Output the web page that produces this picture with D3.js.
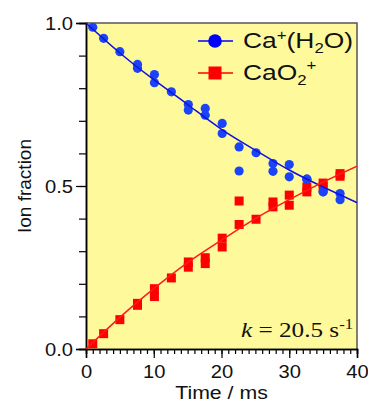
<!DOCTYPE html>
<html>
<head>
<meta charset="utf-8">
<script src="https://cdn.jsdelivr.net/npm/d3@7"></script>
<style>
  body { margin: 0; background: #fff; }
</style>
</head>
<body>
<figure id="chart" style="margin:0"></figure>
<script>
// measured times (ms)
const times = [1.0, 2.6, 5.0, 7.6, 7.6, 10.1, 10.1, 12.6, 15.1, 15.1, 17.6, 17.6, 20.1, 20.1,
  22.6, 22.6, 25.1, 27.6, 27.6, 30.0, 30.0, 32.6, 32.6, 35.0, 35.0, 37.5, 37.5];
// Ca+(H2O) fraction
const caH2O = [0.987, 0.953, 0.912, 0.873, 0.861, 0.842, 0.817, 0.789, 0.750, 0.733, 0.738, 0.717,
  0.692, 0.661, 0.620, 0.546, 0.602, 0.569, 0.545, 0.566, 0.528, 0.521, 0.521, 0.482, 0.482, 0.477, 0.458];
// CaO2+ fraction
const caO2 = [0.016, 0.047, 0.090, 0.134, 0.140, 0.185, 0.161, 0.218, 0.267, 0.251, 0.280, 0.262,
  0.340, 0.313, 0.454, 0.382, 0.398, 0.451, 0.436, 0.472, 0.441, 0.497, 0.482, 0.509, 0.499, 0.538, 0.530];

// fitted curves
const fitTimes = [0, 5, 10, 15, 20, 25, 30, 35, 40];
const fitCaH2O = [1.0, 0.908, 0.826, 0.750, 0.674, 0.610, 0.549, 0.497, 0.449];
const fitCaO2 = [0.0, 0.097, 0.185, 0.265, 0.334, 0.400, 0.458, 0.512, 0.561];

const xTicks = [0, 10, 20, 30, 40];
const yTicks = [0, 0.5, 1.0];

const W = 368, H = 405;
const margin = {left: 86, right: 11, top: 23, bottom: 56};
const width = W - margin.left - margin.right;
const height = H - margin.top - margin.bottom;
const stretch = 1.12; // the original text is a little wider than plain Arial
const sans = "'Liberation Sans', Arial, sans-serif";
const serif = "'Liberation Serif', 'Times New Roman', serif";

const svg = d3.select("#chart").append("svg")
  .attr("width", W).attr("height", H)
  .style("font-family", sans);
const g = svg.append("g")
  .attr("transform", "translate(" + margin.left + "," + margin.top + ")");

const x = d3.scaleLinear().domain([0, 40]).range([0, width]);
const y = d3.scaleLinear().domain([0, 1]).range([height, 0]);

// plot background + frame
g.append("rect").attr("width", width).attr("height", height).attr("fill", "#fefa9c");
g.append("path")
  .attr("d", "M0,0H" + width + "V" + height)
  .attr("fill", "none").attr("stroke", "#555").attr("stroke-width", 1.5);

// minor ticks
const xAxisMinor = g.append("g").attr("transform", "translate(0," + height + ")")
  .call(d3.axisBottom(x).ticks(40).tickSize(5).tickFormat(""));
const xAxis = g.append("g").attr("transform", "translate(0," + height + ")")
  .call(d3.axisBottom(x).tickValues(xTicks).tickSize(9).tickPadding(4).tickFormat(d3.format("d")));
const yAxisMinor = g.append("g")
  .call(d3.axisLeft(y).ticks(10).tickSize(7).tickFormat(""));
const yAxis = g.append("g")
  .call(d3.axisLeft(y).tickValues(yTicks).tickSize(10).tickPadding(3).tickFormat(d3.format(".1f")));

[xAxisMinor, xAxis, yAxisMinor, yAxis].forEach(a => {
  a.attr("font-family", null);
  a.select(".domain").attr("stroke", "#000").attr("stroke-width", 1.5);
  a.selectAll(".tick line").attr("stroke", "#000").attr("stroke-width", 1.2);
  a.selectAll("text").attr("font-size", 18).attr("fill", "#111")
    .attr("transform", "scale(" + stretch + ",1)");
});
xAxis.selectAll("text").attr("dy", "0.9em");
yAxis.selectAll("text").attr("dy", "0.36em").attr("x", -13 / stretch);

// axis titles
svg.append("text").attr("transform", "translate(" + (margin.left + width / 2) + ",399) scale(" + stretch + ",1)")
  .attr("text-anchor", "middle").attr("font-size", 19).attr("fill", "#111").text("Time / ms");
svg.append("text").attr("transform", "translate(31," + (margin.top + height / 2) + ") rotate(-90)")
  .attr("text-anchor", "middle").attr("font-size", 19).attr("fill", "#111").text("Ion fraction");

svg.append("clipPath").attr("id", "clip")
  .append("rect").attr("width", width).attr("height", height);
const plot = g.append("g").attr("clip-path", "url(#clip)");

// points
plot.selectAll(".sq").data(times).enter().append("rect")
  .attr("x", (d, i) => x(d) - 4.5).attr("y", (d, i) => y(caO2[i]) - 4.5)
  .attr("width", 9).attr("height", 9).attr("fill", "#ff0000");
plot.selectAll(".ci").data(times).enter().append("circle")
  .attr("cx", d => x(d)).attr("cy", (d, i) => y(caH2O[i]))
  .attr("r", 4.6).attr("fill", "#1a44f5");

// fit lines
const line = d3.line().curve(d3.curveNatural).x(d => x(d[0])).y(d => y(d[1]));
plot.append("path").datum(fitTimes.map((t, i) => [t, fitCaH2O[i]]))
  .attr("d", line).attr("fill", "none").attr("stroke", "#1010e0").attr("stroke-width", 1.5);
plot.append("path").datum(fitTimes.map((t, i) => [t, fitCaO2[i]]))
  .attr("d", line).attr("fill", "none").attr("stroke", "#ff1a1a").attr("stroke-width", 1.5);

// legend
const leg = svg.append("g");
leg.append("line").attr("x1", 198).attr("x2", 233).attr("y1", 41).attr("y2", 41)
  .attr("stroke", "#0000ff").attr("stroke-width", 1.5);
leg.append("circle").attr("cx", 215).attr("cy", 41).attr("r", 6.8).attr("fill", "#0000ff");
leg.append("line").attr("x1", 198).attr("x2", 233).attr("y1", 73).attr("y2", 73)
  .attr("stroke", "#ff0000").attr("stroke-width", 1.5);
leg.append("rect").attr("x", 208.5).attr("y", 66.5).attr("width", 13).attr("height", 13).attr("fill", "#ff0000");

const legStretch = 1.2;
const t1 = leg.append("text").attr("transform", "translate(243,48) scale(" + legStretch + ",1)")
  .attr("font-size", 22).attr("fill", "#111");
t1.append("tspan").text("Ca");
t1.append("tspan").attr("font-size", 14).attr("dy", -8).text("+");
t1.append("tspan").attr("dy", 8).text("(H");
t1.append("tspan").attr("font-size", 14).attr("dy", 5).text("2");
t1.append("tspan").attr("dy", -5).text("O)");

const t2 = leg.append("text").attr("transform", "translate(243,80) scale(" + legStretch + ",1)")
  .attr("font-size", 22).attr("fill", "#111");
t2.append("tspan").text("CaO");
t2.append("tspan").attr("font-size", 14).attr("dy", 5).text("2");
t2.append("tspan").attr("font-size", 14).attr("dy", -15).text("+");

// rate constant
const k = svg.append("text").attr("transform", "translate(241,337) scale(1.2,1)")
  .attr("font-size", 21).attr("fill", "#111")
  .style("font-family", serif);
k.append("tspan").attr("font-style", "italic").text("k");
k.append("tspan").text(" = 20.5 s");
k.append("tspan").attr("font-size", 14).attr("dy", -8).text("-1");
</script>
</body>
</html>
